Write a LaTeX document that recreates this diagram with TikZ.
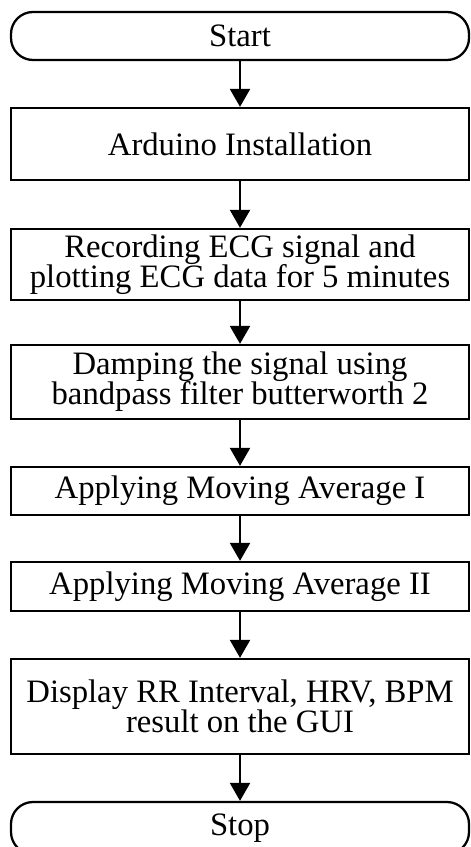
\documentclass[tikz,border=0pt]{standalone}
\usepackage{fontspec}
\setmainfont{Liberation Serif}
\usetikzlibrary{arrows.meta}
\begin{document}
\begin{tikzpicture}[line width=0.65pt, every node/.style={font=\fontsize{9.3}{8.6}\selectfont, align=center},
  termbox/.style={draw, rounded corners=0.22cm, minimum width=4.58cm, minimum height=0.48cm, inner sep=0pt},
  procbox/.style={draw, minimum width=4.58cm, inner sep=0pt},
  flow/.style={-{Triangle[width=0.2cm, length=0.18cm]}}]
\useasboundingbox (0,0) rectangle (4.70,-8.47);
\node[termbox] (start) at (2.40,-0.36) {Start};
\node[procbox, minimum height=0.72cm] (ard) at (2.40,-1.44) {Arduino Installation};
\node[procbox, minimum height=0.71cm] (rec) at (2.40,-2.645) {Recording ECG signal and\\plotting ECG data for 5 minutes};
\node[procbox, minimum height=0.74cm] (damp) at (2.40,-3.82) {Damping the signal using\\bandpass filter butterworth 2};
\node[procbox, minimum height=0.48cm] (ma1) at (2.40,-4.91) {Applying Moving Average I};
\node[procbox, minimum height=0.49cm] (ma2) at (2.40,-5.865) {Applying Moving Average II};
\node[procbox, minimum height=0.95cm] (disp) at (2.40,-7.065) {Display RR Interval, HRV, BPM\\result on the GUI};
\node[termbox, minimum height=0.52cm] (stop) at (2.40,-8.28) {Stop};
\draw[flow] (start)--(ard);
\draw[flow] (ard)--(rec);
\draw[flow] (rec)--(damp);
\draw[flow] (damp)--(ma1);
\draw[flow] (ma1)--(ma2);
\draw[flow] (ma2)--(disp);
\draw[flow] (disp)--(stop);
\end{tikzpicture}
\end{document}
